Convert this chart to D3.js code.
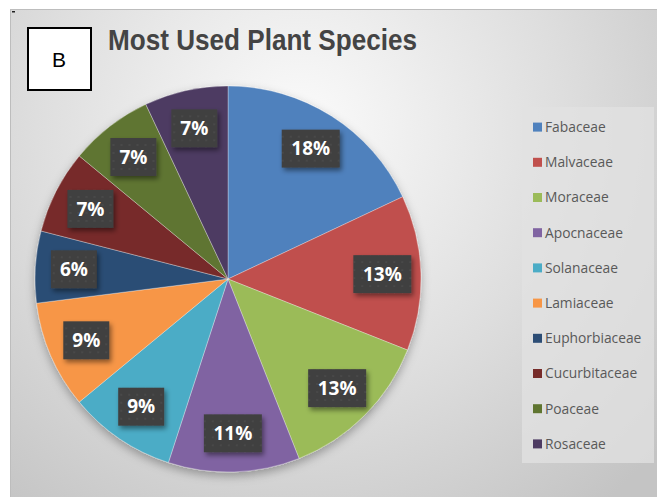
<!DOCTYPE html>
<html>
<head>
<meta charset="utf-8">
<script src="https://cdn.jsdelivr.net/npm/d3@7"></script>
<style>
  body { margin: 0; background: #fff; }
  svg { display: block; }
</style>
</head>
<body>
<svg id="chart"></svg>
<script>
const families = ["Fabaceae", "Malvaceae", "Moraceae", "Apocnaceae", "Solanaceae",
  "Lamiaceae", "Euphorbiaceae", "Cucurbitaceae", "Poaceae", "Rosaceae"];
const shares = [18, 13, 13, 11, 9, 9, 6, 7, 7, 7];
const sliceColors = ["#4F81BD", "#C0504D", "#9BBB59", "#8064A2", "#4BACC6",
  "#F79646", "#2C4D75", "#772C2A", "#5F7530", "#4D3B62"];

const width = 657, height = 497;
const svg = d3.select("#chart").attr("width", width).attr("height", height);
const defs = svg.append("defs");

// background gradient of the chart area
const bg = defs.append("radialGradient").attr("id", "bg")
  .attr("gradientUnits", "userSpaceOnUse")
  .attr("cx", 300).attr("cy", 130).attr("r", 480);
bg.append("stop").attr("offset", 0).attr("stop-color", "#fbfbfb");
bg.append("stop").attr("offset", 0.55).attr("stop-color", "#dedede");
bg.append("stop").attr("offset", 1).attr("stop-color", "#c4c4c4");

const pieShadow = defs.append("filter").attr("id", "pieShadow")
  .attr("x", "-20%").attr("y", "-20%").attr("width", "140%").attr("height", "140%");
pieShadow.append("feDropShadow").attr("dx", 0).attr("dy", 4)
  .attr("stdDeviation", 5).attr("flood-color", "#000").attr("flood-opacity", 0.3);

const boxShadow = defs.append("filter").attr("id", "boxShadow")
  .attr("x", "-30%").attr("y", "-30%").attr("width", "170%").attr("height", "170%");
boxShadow.append("feDropShadow").attr("dx", 2).attr("dy", 3)
  .attr("stdDeviation", 2.5).attr("flood-color", "#000").attr("flood-opacity", 0.45);

const dots = defs.append("pattern").attr("id", "dots")
  .attr("patternUnits", "userSpaceOnUse").attr("width", 8).attr("height", 8);
dots.append("rect").attr("width", 8).attr("height", 8).attr("fill", "#3f3f3f");
dots.append("circle").attr("cx", 4).attr("cy", 4).attr("r", 1.3).attr("fill", "#484848");

// chart area
svg.append("rect")
  .attr("x", 10.5).attr("y", 9.5).attr("width", width - 10).attr("height", height - 9)
  .attr("fill", "url(#bg)").attr("stroke", "#bdbdbd").attr("stroke-width", 1);
svg.append("rect").attr("x", 12).attr("y", 11).attr("width", 3).attr("height", 1.5).attr("fill", "#222");

// panel letter
svg.append("rect")
  .attr("x", 28).attr("y", 28).attr("width", 63).attr("height", 62)
  .attr("fill", "#fff").attr("stroke", "#000").attr("stroke-width", 2);
svg.append("text")
  .attr("x", 59).attr("y", 66.5)
  .attr("text-anchor", "middle")
  .attr("font-family", "Liberation Sans, Arial, sans-serif")
  .attr("font-size", 21).attr("fill", "#000")
  .text("B");

// title
svg.append("text")
  .attr("x", 108).attr("y", 50)
  .attr("font-family", "Liberation Sans Narrow, Arial Narrow, Liberation Sans, sans-serif")
  .attr("font-weight", "bold").attr("font-size", 30).attr("fill", "#444")
  .attr("textLength", 309).attr("lengthAdjust", "spacingAndGlyphs")
  .text("Most Used Plant Species");

// pie
const cx = 228, cy = 279, radius = 193;
const data = families.map((f, i) => ({ family: f, share: shares[i], color: sliceColors[i] }));
const pie = d3.pie().value(d => d.share).sort(null);
const arc = d3.arc().innerRadius(0).outerRadius(radius);
const labelArc = d3.arc().innerRadius(radius * 0.8).outerRadius(radius * 0.8);

const g = svg.append("g").attr("transform", `translate(${cx},${cy})`);
const arcs = pie(data);

g.append("g").attr("filter", "url(#pieShadow)")
  .selectAll("path")
  .data(arcs)
  .join("path")
  .attr("d", arc)
  .attr("fill", d => d.data.color)
  .attr("stroke", "rgba(255,255,255,0.45)")
  .attr("stroke-width", 0.7);

const labels = g.append("g").selectAll("g")
  .data(arcs)
  .join("g")
  .attr("transform", d => `translate(${labelArc.centroid(d)})`);

labels.append("rect")
  .attr("x", d => -(String(d.data.share).length === 2 ? 58 : 46) / 2)
  .attr("y", -19)
  .attr("width", d => String(d.data.share).length === 2 ? 58 : 46)
  .attr("height", 38)
  .attr("fill", "url(#dots)")
  .attr("filter", "url(#boxShadow)");

labels.append("text")
  .attr("text-anchor", "middle")
  .attr("dy", "0.35em")
  .attr("font-family", "Open Sans, Lato, sans-serif")
  .attr("font-weight", "bold").attr("font-size", 19).attr("fill", "#fff")
  .text(d => d.data.share + "%");

// legend
const legend = svg.append("g");
legend.append("rect")
  .attr("x", 522).attr("y", 107).attr("width", 132).attr("height", 356)
  .attr("fill", "#e2e2e2").attr("fill-opacity", 0.75);

const ly = d3.scaleBand().domain(families).range([109.5, 461.5]);
const items = legend.selectAll("g.item")
  .data(data)
  .join("g")
  .attr("class", "item")
  .attr("transform", d => `translate(533,${ly(d.family) + ly.bandwidth() / 2})`);
items.append("rect")
  .attr("x", 0).attr("y", -4.5).attr("width", 9).attr("height", 9)
  .attr("fill", d => d.color);
items.append("text")
  .attr("x", 12).attr("dy", "0.35em")
  .attr("font-family", "Open Sans, Liberation Sans, sans-serif")
  .attr("font-size", 13.8).attr("fill", "#595959")
  .text(d => d.family);
</script>
</body>
</html>
